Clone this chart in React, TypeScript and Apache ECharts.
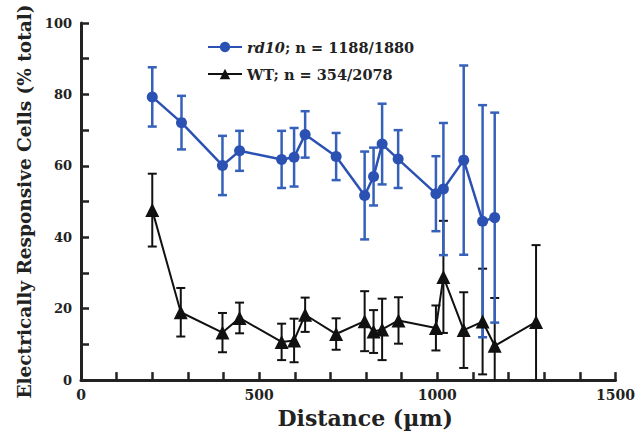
import React, { useEffect, useRef } from "react";
import * as echarts from "echarts";

const rd10X = [200, 282, 397, 445, 563, 598, 629, 716, 796, 821, 845, 890, 996, 1017, 1074, 1127, 1161];
const rd10Mean = [79.3, 72.1, 60.1, 64.2, 61.8, 62.4, 68.8, 62.6, 51.7, 57.0, 66.1, 61.9, 52.2, 53.5, 61.6, 44.5, 45.5];
const rd10Err = [8.3, 7.5, 8.3, 5.6, 8.0, 8.2, 6.5, 6.6, 12.3, 8.1, 11.3, 8.1, 10.5, 18.5, 26.5, 32.5, 29.4];

const wtX = [200, 280, 397, 445, 563, 598, 629, 716, 796, 821, 845, 891, 996, 1017, 1074, 1127, 1161, 1277];
const wtMean = [47.6, 19.0, 13.3, 17.4, 10.7, 11.1, 18.3, 12.9, 16.5, 13.6, 14.2, 16.7, 14.6, 28.9, 14.0, 16.4, 9.6, 16.3];
const wtErr = [10.2, 6.8, 5.5, 4.3, 5.1, 6.1, 4.8, 4.4, 8.4, 6.0, 8.6, 6.5, 6.3, 15.7, 10.6, 14.8, 13.4, 21.5];

const xTickLabels = [0, 500, 1000, 1500];
const yTickLabels = [0, 20, 40, 60, 80, 100];

const BLUE = "#2b51b3";
const BLUE_BAR = "#3561ba";
const BLACK = "#111111";
const FONT = "DejaVu Serif";

function errorSeries(xs: number[], ms: number[], es: number[], color: string, width: number) {
  return {
    type: "custom",
    silent: true,
    data: xs.map((x, i) => [x, ms[i] - es[i], ms[i] + es[i]]),
    encode: { x: 0, y: [1, 2] },
    renderItem: (params: any, api: any) => {
      const x = api.value(0);
      const loRaw = api.value(1);
      const hi = api.value(2);
      const lo = Math.max(0, loRaw);
      const pLo = api.coord([x, lo]);
      const pHi = api.coord([x, hi]);
      const w = 4.5;
      const style = { stroke: color, lineWidth: width };
      const children: any[] = [
        { type: "line", shape: { x1: pLo[0], y1: pLo[1], x2: pHi[0], y2: pHi[1] }, style },
        { type: "line", shape: { x1: pHi[0] - w, y1: pHi[1], x2: pHi[0] + w, y2: pHi[1] }, style },
      ];
      if (loRaw >= 0) {
        children.push({ type: "line", shape: { x1: pLo[0] - w, y1: pLo[1], x2: pLo[0] + w, y2: pLo[1] }, style });
      }
      return { type: "group", children };
    },
    z: 2,
  };
}

export default function App() {
  const ref = useRef<HTMLDivElement>(null);
  useEffect(() => {
    if (!ref.current) return;
    const chart = echarts.init(ref.current, undefined, { renderer: "svg" });
    chart.setOption({
      animation: false,
      backgroundColor: "#ffffff",
      grid: { left: 81, right: 21, top: 23, bottom: 53, containLabel: false },
      legend: {
        orient: "vertical",
        left: 207,
        top: 37,
        padding: 0,
        itemWidth: 34,
        itemHeight: 13,
        itemGap: 7,
        data: ["rd10", "WT"],
        formatter: (name: string) =>
          name === "rd10" ? "{i|rd10}; n = 1188/1880" : "WT; n = 354/2078",
        textStyle: {
          fontFamily: FONT,
          fontWeight: "bold",
          fontSize: 14.5,
          lineHeight: 20,
          color: "#222",
          rich: {
            i: { fontFamily: FONT, fontWeight: "bold", fontStyle: "italic", fontSize: 14.5, lineHeight: 20, color: "#222" },
          },
        },
      },
      xAxis: {
        type: "value",
        min: 0,
        max: 1500,
        interval: 100,
        name: "Distance (µm)",
        nameLocation: "middle",
        nameGap: 26,
        nameTextStyle: {
          fontFamily: FONT,
          fontWeight: "bold",
          fontSize: 22,
          color: "#222",
          padding: [0, 0, 0, 34],
        },
        axisLine: { onZero: false, lineStyle: { color: "#222", width: 3 } },
        axisTick: { inside: true, length: 8, lineStyle: { color: "#222", width: 2.5 } },
        axisLabel: {
          margin: 8,
          fontFamily: FONT,
          fontWeight: "bold",
          fontSize: 14,
          color: "#222",
          formatter: (v: number) => (xTickLabels.includes(v) ? String(v) : ""),
        },
        splitLine: { show: false },
      },
      yAxis: {
        type: "value",
        min: 0,
        max: 100,
        interval: 10,
        name: "Electrically Responsive Cells (% total)",
        nameLocation: "middle",
        nameGap: 44,
        nameTextStyle: {
          fontFamily: FONT,
          fontWeight: "bold",
          fontSize: 18.5,
          color: "#222",
        },
        axisLine: { show: true, lineStyle: { color: "#222", width: 3 } },
        axisTick: { show: true, inside: true, length: 8, lineStyle: { color: "#222", width: 2.5 } },
        axisLabel: {
          margin: 9,
          fontFamily: FONT,
          fontWeight: "bold",
          fontSize: 13,
          color: "#222",
          formatter: (v: number) => (yTickLabels.includes(v) ? String(v) : ""),
        },
        splitLine: { show: false },
      },
      series: [
        errorSeries(wtX, wtMean, wtErr, BLACK, 2),
        {
          name: "WT",
          type: "line",
          data: wtX.map((x, i) => [x, wtMean[i]]),
          symbol: "triangle",
          symbolSize: 14,
          lineStyle: { color: BLACK, width: 2 },
          itemStyle: { color: BLACK },
          z: 3,
        },
        errorSeries(rd10X, rd10Mean, rd10Err, BLUE_BAR, 2.5),
        {
          name: "rd10",
          type: "line",
          data: rd10X.map((x, i) => [x, rd10Mean[i]]),
          symbol: "circle",
          symbolSize: 11,
          lineStyle: { color: BLUE, width: 2.5 },
          itemStyle: { color: BLUE },
          z: 5,
        },
      ],
    });
    return () => chart.dispose();
  }, []);
  return (
    <div
      ref={ref}
      style={{ position: "fixed", left: 0, top: 0, width: 638, height: 434, background: "#fff" }}
    />
  );
}
